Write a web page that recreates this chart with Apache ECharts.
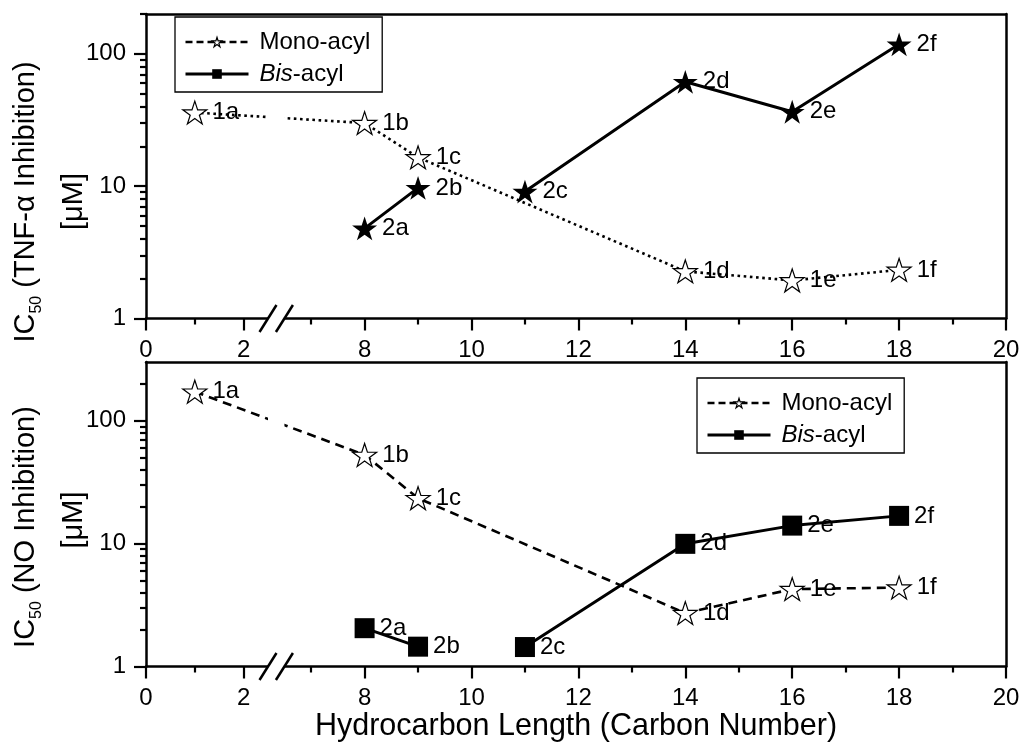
<!DOCTYPE html>
<html><head><meta charset="utf-8">
<script src="https://cdn.jsdelivr.net/npm/echarts@6/dist/echarts.min.js"></script>
<style>html,body{margin:0;padding:0;background:#fff}#c{width:1028px;height:751px}</style>
</head><body><div id="c"></div>
<script>
// ---------------- data ----------------
const compoundsMono = ['1a', '1b', '1c', '1d', '1e', '1f'];
const carbonMono = [1, 8, 9, 14, 16, 18];
const compoundsBis = ['2a', '2b', '', '2c', '2d', '2e', '2f'];
const carbonBis = [8, 9, 10, 11, 14, 16, 18];
const tnfMono = [36, 30, 16.5, 2.27, 1.94, 2.33];
const tnfBis = [4.8, 9.7, null, 9.1, 61.5, 36.5, 118];
const noMono = [172, 52.6, 23.4, 2.72, 4.26, 4.39];
const noBis = [2.05, 1.45, null, 1.44, 9.95, 14.0, 16.8];
const xMajorTicks = [0, 2, 8, 10, 12, 14, 16, 18, 20];
const xMinorTicks = [1, 7, 9, 11, 13, 15, 17, 19];
const yMajorTicks = [1, 10, 100];
const yMinorTicks = [2, 3, 4, 5, 6, 7, 8, 9, 20, 30, 40, 50, 60, 70, 80, 90, 200];
const legendNames = ['Mono-acyl', 'Bis-acyl'];

// ---------------- layout / broken axis ----------------
const FONT = '"Liberation Sans", Arial, Helvetica, sans-serif';
const GRID_LEFT = 146, GRID_RIGHT = 22, GRID_W = 1028 - GRID_LEFT - GRID_RIGHT;
const GRIDS = [{top: 14, height: 304.5, ymax: 200}, {top: 362, height: 304.5, ymax: 300}];
const PXU_R = 53.45, PXU_L = 48.8;           // px per carbon unit right / left of the break
const DMAX = GRID_W / PXU_R;
const brk = x => x <= 4 ? x * PXU_L / PXU_R : DMAX - (20 - x);
const toPx = d => GRID_LEFT + d * PXU_R;
const labelFor = v => {
  const i = xMajorTicks.findIndex(t => Math.abs(brk(t) - v) < 1e-6);
  return i >= 0 ? String(xMajorTicks[i]) : '';
};
const STAR = 'path://M0,-50L11.23,-15.45L47.55,-15.45L18.17,5.9L29.39,40.45L0,19.1L-29.39,40.45L-18.17,5.9L-47.55,-15.45L-11.23,-15.45Z';
const AX = {color: '#000', width: 2.5};
const TK = {color: '#000', width: 2.2};

const xAxis = [], yAxis = [];
GRIDS.forEach((g, gi) => {
  xAxis.push({
    type: 'value', gridIndex: gi, min: 0, max: DMAX, position: 'bottom', z: 1,
    axisLine: {show: true, onZero: false, lineStyle: AX},
    axisTick: {show: true, length: 12, customValues: xMajorTicks.map(brk), lineStyle: TK},
    axisLabel: {show: true, customValues: xMajorTicks.map(brk), formatter: labelFor,
      fontSize: 24, color: '#000', fontFamily: FONT, margin: 20},
    splitLine: {show: false},
    name: gi === 1 ? 'Hydrocarbon Length (Carbon Number)' : '',
    nameLocation: 'middle', nameGap: 43,
    nameTextStyle: {fontSize: 30.5, color: '#000', fontFamily: FONT}
  });
  xAxis.push({
    type: 'value', gridIndex: gi, min: 0, max: DMAX, position: 'bottom',
    axisLine: {show: false, onZero: false},
    axisTick: {show: true, length: 6, customValues: xMinorTicks.map(brk), lineStyle: TK},
    axisLabel: {show: false}, splitLine: {show: false}
  });
  xAxis.push({
    type: 'value', gridIndex: gi, min: 0, max: DMAX, position: 'top',
    axisLine: {show: true, onZero: false, lineStyle: AX},
    axisTick: {show: false}, axisLabel: {show: false}, splitLine: {show: false}
  });
  yAxis.push({
    type: 'log', logBase: 10, gridIndex: gi, min: 1, max: g.ymax, position: 'left',
    axisLine: {show: true, onZero: false, lineStyle: AX},
    axisTick: {show: true, length: 12, customValues: yMajorTicks, lineStyle: TK},
    axisLabel: {show: true, customValues: yMajorTicks, fontSize: 24, color: '#000', fontFamily: FONT, margin: 20},
    splitLine: {show: false}, minorTick: {show: false}
  });
  yAxis.push({
    type: 'log', logBase: 10, gridIndex: gi, min: 1, max: g.ymax, position: 'left',
    axisLine: {show: false, onZero: false},
    axisTick: {show: true, length: 6, customValues: yMinorTicks, lineStyle: TK},
    axisLabel: {show: false}, splitLine: {show: false}
  });
  yAxis.push({
    type: 'value', gridIndex: gi, min: 0, max: 1, position: 'right',
    axisLine: {show: true, onZero: false, lineStyle: AX},
    axisTick: {show: false}, axisLabel: {show: false}, splitLine: {show: false}
  });
});

const pts = (xs, ys) => xs.map((x, i) => [brk(x), ys[i] == null ? '-' : ys[i]]);
const lbl = names => ({show: true, position: 'right', distance: 5, color: '#000', fontSize: 24,
  fontFamily: FONT, formatter: p => names[p.dataIndex]});
const hollow = {color: '#fff', borderColor: '#000', borderWidth: 1.2};
const filled = {color: '#000', borderColor: '#000', borderWidth: 0};

const series = [
  {name: 'TNF mono', type: 'line', xAxisIndex: 0, yAxisIndex: 0, data: pts(carbonMono, tnfMono),
   symbol: STAR, symbolSize: 24, symbolKeepAspect: true, itemStyle: hollow,
   lineStyle: {color: '#000', width: 2.6, type: [2.6, 3.6]}, label: lbl(compoundsMono)},
  {name: 'TNF bis', type: 'line', xAxisIndex: 0, yAxisIndex: 0, data: pts(carbonBis, tnfBis),
   symbol: STAR, symbolSize: 25, symbolKeepAspect: true, itemStyle: filled, connectNulls: false,
   lineStyle: {color: '#000', width: 3}, label: lbl(compoundsBis)},
  {name: 'NO mono', type: 'line', xAxisIndex: 3, yAxisIndex: 3, data: pts(carbonMono, noMono),
   symbol: STAR, symbolSize: 24, symbolKeepAspect: true, itemStyle: hollow,
   lineStyle: {color: '#000', width: 2.6, type: [9, 6]}, label: lbl(compoundsMono)},
  {name: 'NO bis', type: 'line', xAxisIndex: 3, yAxisIndex: 3, data: pts(carbonBis, noBis),
   symbol: 'rect', symbolSize: 20, itemStyle: filled, connectNulls: false,
   lineStyle: {color: '#000', width: 3}, label: lbl(compoundsBis)},
  {name: legendNames[0], type: 'line', xAxisIndex: 0, yAxisIndex: 0, data: [],
   symbol: STAR, itemStyle: hollow, lineStyle: {color: '#000', width: 2.5, type: [7, 4]}},
  {name: legendNames[1], type: 'line', xAxisIndex: 0, yAxisIndex: 0, data: [],
   symbol: 'rect', itemStyle: filled, lineStyle: {color: '#000', width: 3}}
];

const legendBase = {
  orient: 'vertical', selectedMode: false, itemWidth: 63, itemHeight: 12, itemGap: 8, z: 10,
  borderColor: '#000', borderWidth: 1.3, padding: [13, 12, 6, 9], backgroundColor: '#fff',
  textStyle: {fontSize: 24, color: '#000', fontFamily: FONT, lineHeight: 24, padding: [0, 0, 0, 6],
    rich: {i: {fontStyle: 'italic', fontSize: 24, fontFamily: FONT, lineHeight: 24, color: '#000'}}},
  formatter: n => n === 'Bis-acyl' ? '{i|Bis}-acyl' : n,
  data: [
    {name: legendNames[0], itemStyle: hollow, lineStyle: {color: '#000', width: 2.5, type: [7, 4]}},
    {name: legendNames[1], itemStyle: filled, lineStyle: {color: '#000', width: 3, type: 'solid'}}
  ]
};

const BRK_L = toPx(brk(2.5)), BRK_R = toPx(brk(6.5));
const graphic = [];
GRIDS.forEach(g => {
  const yb = g.top + g.height;
  graphic.push({type: 'rect', z: 5, shape: {x: BRK_L, y: g.top + 2, width: BRK_R - BRK_L, height: g.height - 4}, style: {fill: '#fff'}});
  graphic.push({type: 'rect', z: 5, shape: {x: BRK_L, y: yb - 3, width: BRK_R - BRK_L, height: 6}, style: {fill: '#fff'}});
  [BRK_L, BRK_R].forEach(cx => graphic.push({type: 'line', z: 6,
    shape: {x1: cx - 8.5, y1: yb + 13.5, x2: cx + 8.5, y2: yb - 13.5}, style: {stroke: '#000', lineWidth: 2.5}}));
});
const yTitle = (x, y, text) => ({type: 'text', x, y, rotation: Math.PI / 2, z: 6,
  style: {text, fontSize: 29, fontFamily: FONT, fill: '#000', align: 'center', verticalAlign: 'middle',
    rich: {s: {fontSize: 16, fontFamily: FONT, fill: '#000', verticalAlign: 'bottom', padding: [22, 0, 0, 0]}}}});
graphic.push(yTitle(25.5, 202, 'IC{s|50} (TNF-α Inhibition)'));
graphic.push(yTitle(74, 201.5, '[μM]'));
graphic.push(yTitle(25.5, 527, 'IC{s|50} (NO Inhibition)'));
graphic.push(yTitle(74, 520, '[μM]'));

const chart = echarts.init(document.getElementById('c'), null, {renderer: 'canvas'});
chart.setOption({
  animation: false,
  backgroundColor: '#fff',
  grid: GRIDS.map(g => ({left: GRID_LEFT, right: GRID_RIGHT, top: g.top, height: g.height, containLabel: false})),
  xAxis, yAxis, series,
  legend: [Object.assign({}, legendBase, {left: 175, top: 17}), Object.assign({}, legendBase, {left: 697, top: 378})],
  graphic
});
</script></body></html>
